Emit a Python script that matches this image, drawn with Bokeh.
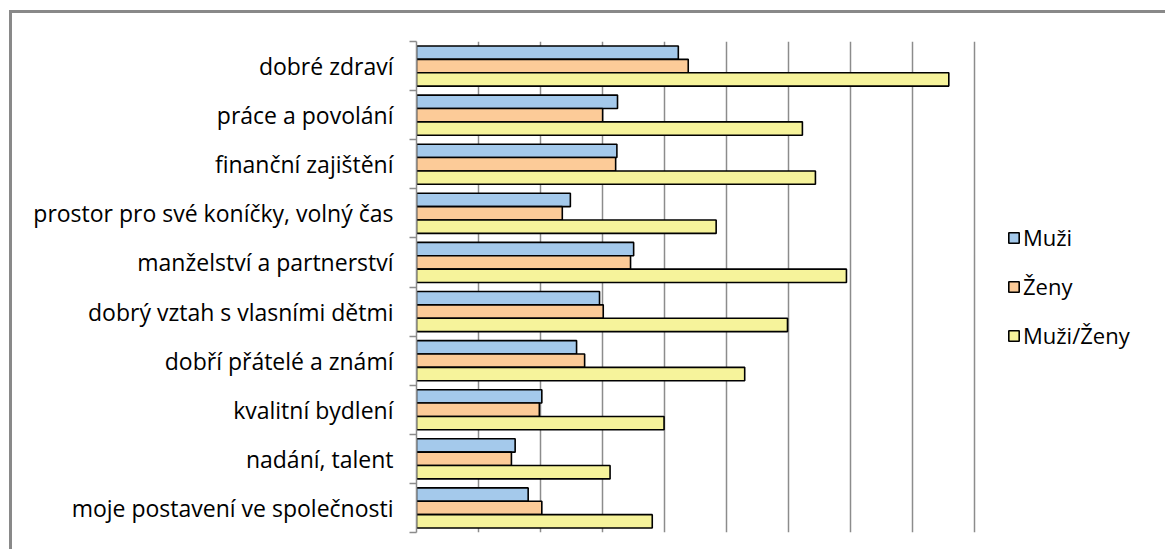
from bokeh.plotting import figure
from bokeh.models import (ColumnDataSource, Range1d, LinearAxis,
                          FixedTicker, Grid, Legend, LegendItem)
from bokeh.transform import dodge
from bokeh.embed import file_html
from bokeh.resources import INLINE

categories = [
    "dobré zdraví",
    "práce a povolání",
    "finanční zajištění",
    "prostor pro své koníčky, volný čas",
    "manželství a partnerství",
    "dobrý vztah s vlasními dětmi",
    "dobří přátelé a známí",
    "kvalitní bydlení",
    "nadání, talent",
    "moje postavení ve společnosti",
]
muzi = [4.22, 3.24, 3.23, 2.48, 3.50, 2.95, 2.58, 2.02, 1.59, 1.80]
zeny = [4.38, 3.00, 3.21, 2.35, 3.45, 3.01, 2.71, 1.98, 1.53, 2.02]
pomer = [8.58, 6.22, 6.43, 4.83, 6.93, 5.98, 5.29, 3.99, 3.12, 3.80]
series_names = ["Muži", "Ženy", "Muži/Ženy"]
grid_ticks = [1, 2, 3, 4, 5, 6, 7, 8, 9]

colors = ["#A4C9EB", "#FCCB98", "#F6F39B"]
FONT = "Open Sans"

n = len(categories)
pos = [n - i - 0.5 for i in range(n)]   # first category at top
bounds = list(range(n + 1))
source = ColumnDataSource(dict(cat=categories, pos=pos, muzi=muzi, zeny=zeny, pomer=pomer))

# frame spans from the value axis to the right edge of the canvas (62 px per grid step)
x_end = (1168 - 416.5) / 62.0

p = figure(width=1156, height=539, y_range=Range1d(0, n), x_range=Range1d(0, x_end),
           x_axis_location=None, y_axis_location=None,
           output_backend="svg", toolbar_location=None,
           min_border_left=404, min_border_right=0,
           min_border_top=28, min_border_bottom=20,
           styles={"margin-left": "9px", "margin-top": "10px",
                   "border-left": "3px solid #898989",
                   "border-top": "3px solid #898989"})
p.outline_line_color = None
p.background_fill_color = "white"
p.border_fill_color = "white"
for g in p.grid:
    g.visible = False

grid = Grid(dimension=0, ticker=FixedTicker(ticks=grid_ticks),
            grid_line_color="#8C8C8C", grid_line_width=1.5)
p.add_layout(grid)

h = 0.272
offsets = [h, 0.0, -h]
fields = ["muzi", "zeny", "pomer"]
renderers = []
for f, off, c in zip(fields, offsets, colors):
    r = p.hbar(y=dodge("pos", off), right=f, left=0, height=h,
               source=source, fill_color=c, line_color="black", line_width=1.6)
    renderers.append(r)

label_axis = LinearAxis(ticker=FixedTicker(ticks=pos, minor_ticks=bounds),
                        major_label_overrides={pv: c for pv, c in zip(pos, categories)},
                        axis_line_color="#8C8C8C", axis_line_width=1.5,
                        major_tick_line_color=None, major_tick_out=7, major_tick_in=0,
                        minor_tick_line_color="#8C8C8C", minor_tick_line_width=1.5,
                        minor_tick_out=7, minor_tick_in=0,
                        major_label_text_font=FONT, major_label_text_font_size="23px",
                        major_label_text_color="#000000", major_label_standoff=16)
p.add_layout(label_axis, "left")

legend = Legend(items=[LegendItem(label=s, renderers=[r]) for s, r in zip(series_names, renderers)],
                location=(591, 182), border_line_color=None, background_fill_alpha=0,
                label_text_font=FONT, label_text_font_size="22px", label_text_color="#000000",
                glyph_width=13, glyph_height=13, label_standoff=3, spacing=19,
                margin=0, padding=0)
p.add_layout(legend)

open("out.html", "w").write(file_html(p, INLINE))
